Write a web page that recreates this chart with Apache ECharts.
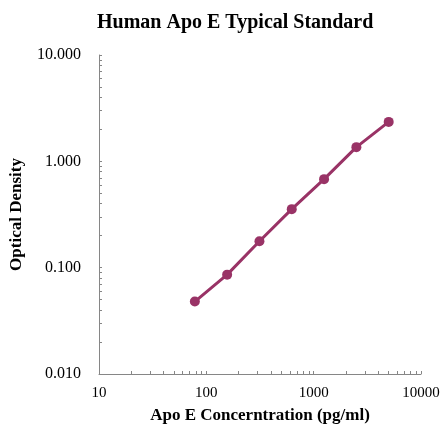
<!DOCTYPE html>
<html><head><meta charset="utf-8">
<script src="https://cdn.jsdelivr.net/npm/echarts@6/dist/echarts.min.js"></script>
<style>html,body{margin:0;padding:0;background:#fff}#c{width:440px;height:425px}</style>
</head><body><div id="c"></div>
<script>
const concentrations = [78.125, 156.25, 312.5, 625, 1250, 2500, 5000];
const opticalDensity = [0.048, 0.086, 0.177, 0.355, 0.68, 1.36, 2.35];
const xTicks = [10,20,30,40,50,60,70,80,90,100,200,300,400,500,600,700,800,900,1000,2000,3000,4000,5000,6000,7000,8000,9000,10000];
const xLabels = [10, 100, 1000, 10000];
const yTicks = [0.01,0.02,0.03,0.04,0.05,0.06,0.07,0.08,0.09,0.1,0.2,0.3,0.4,0.5,0.6,0.7,0.8,0.9,1,2,3,4,5,6,7,8,9,10];
const yLabels = [0.01, 0.1, 1, 10];

const font = 'Liberation Serif';
const chart = echarts.init(document.getElementById('c'));
chart.setOption({
  animation: false,
  title: {
    text: 'Human Apo E Typical Standard',
    left: 92, top: 8,
    textStyle: {fontFamily: font, fontWeight: 'bold', fontSize: 20, color: '#000'}
  },
  grid: {left: 99, right: 19, top: 55, bottom: 51, containLabel: false, outerBoundsMode: 'none'},
  xAxis: {
    type: 'log', min: 10, max: 10000, logBase: 10,
    name: 'Apo E Concerntration (pg/ml)', nameLocation: 'middle', nameGap: 33,
    nameTextStyle: {fontFamily: font, fontWeight: 'bold', fontSize: 17, color: '#000'},
    axisLine: {lineStyle: {color: '#868686', width: 1}},
    axisTick: {show: true, inside: true, length: 3, customValues: xTicks, lineStyle: {color: '#868686'}},
    axisLabel: {customValues: xLabels, fontFamily: font, fontSize: 15, color: '#000', margin: 12,
      formatter: v => String(Math.round(v))},
    splitLine: {show: false}
  },
  yAxis: {
    type: 'log', min: 0.01, max: 10, logBase: 10,
    name: 'Optical Density', nameLocation: 'middle', nameGap: 74, nameRotate: 90,
    nameTextStyle: {fontFamily: font, fontWeight: 'bold', fontSize: 17, color: '#000'},
    axisLine: {show: true, lineStyle: {color: '#868686', width: 1}},
    axisTick: {show: true, inside: true, length: 3, customValues: yTicks, lineStyle: {color: '#868686'}},
    axisLabel: {customValues: yLabels, fontFamily: font, fontSize: 16, color: '#000', margin: 18,
      formatter: v => Number(v).toFixed(3)},
    splitLine: {show: false}
  },
  series: [{
    type: 'line',
    data: concentrations.map((x, i) => [x, opticalDensity[i]]),
    symbol: 'circle', symbolSize: 10,
    lineStyle: {color: '#993366', width: 3},
    itemStyle: {color: '#993366'}
  }]
});
</script></body></html>
